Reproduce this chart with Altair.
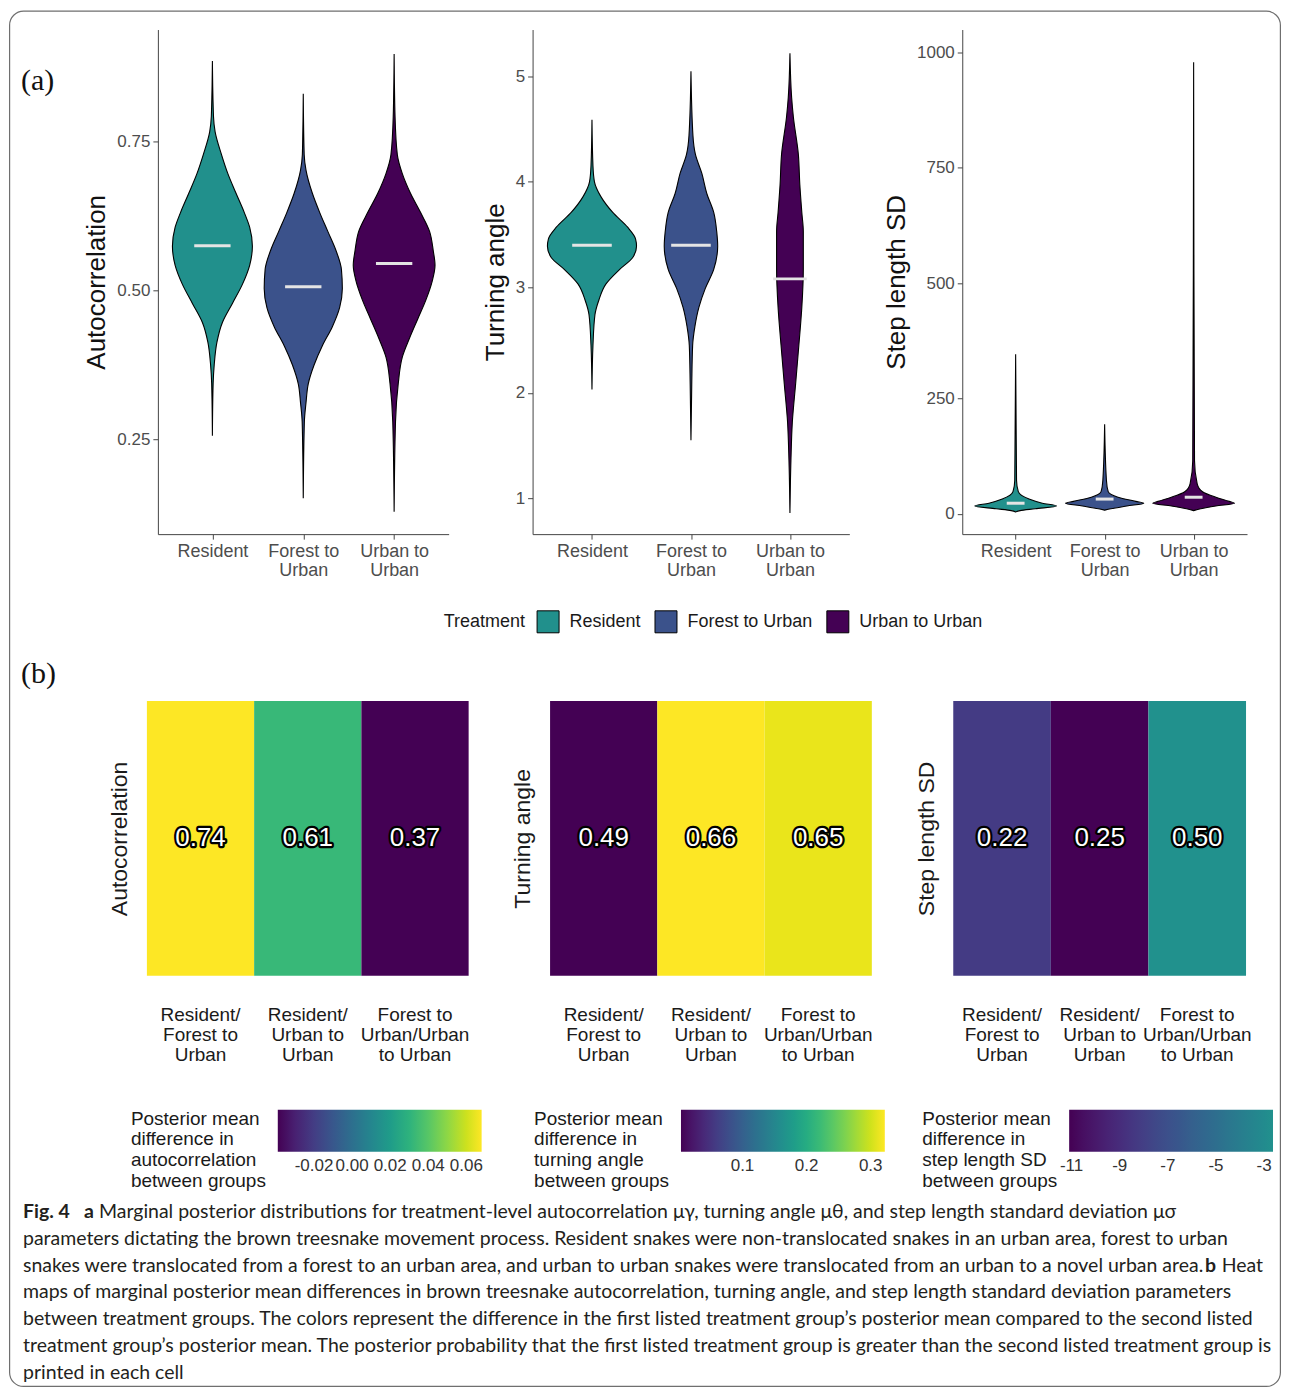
import json
import altair as alt
import pandas as pd

# ---------------- shared categories ----------------
TREATMENTS = ["Resident", "Forest to Urban", "Urban to Urban"]
TREAT_COLORS = ["#21908c", "#3b528b", "#440154"]
VIOLIN_X_LABELS = [["Resident"], ["Forest to", "Urban"], ["Urban to", "Urban"]]

# ---------------- (a) violin outlines ----------------
# value along the y axis, half-width of the violin (in category units)
AC_RES_V = [0.885, 0.792, 0.766, 0.728, 0.696, 0.663, 0.631, 0.606, 0.574, 0.542, 0.510, 0.478, 0.446, 0.413, 0.375, 0.343, 0.256]
AC_RES_W = [0.0, 0.012, 0.03, 0.10, 0.17, 0.26, 0.35, 0.41, 0.44, 0.41, 0.33, 0.22, 0.11, 0.05, 0.02, 0.008, 0.0]
AC_FTU_V = [0.830, 0.728, 0.702, 0.663, 0.631, 0.599, 0.567, 0.535, 0.503, 0.471, 0.439, 0.407, 0.375, 0.343, 0.311, 0.279, 0.151]
AC_FTU_W = [0.0, 0.01, 0.03, 0.10, 0.18, 0.27, 0.36, 0.42, 0.43, 0.40, 0.32, 0.21, 0.12, 0.055, 0.03, 0.012, 0.0]
AC_UTU_V = [0.897, 0.792, 0.728, 0.696, 0.663, 0.631, 0.599, 0.567, 0.542, 0.516, 0.484, 0.452, 0.420, 0.388, 0.343, 0.279, 0.128]
AC_UTU_W = [0.0, 0.01, 0.035, 0.09, 0.18, 0.29, 0.39, 0.43, 0.45, 0.42, 0.35, 0.26, 0.17, 0.09, 0.045, 0.015, 0.0]
AC_MEANS = [0.575, 0.506, 0.545]
AC_MEAN_HALF = [0.2, 0.2, 0.2]

TA_RES_V = [4.59, 4.15, 4.00, 3.86, 3.71, 3.57, 3.46, 3.39, 3.28, 3.17, 3.03, 2.88, 2.74, 2.45, 2.03]
TA_RES_W = [0.0, 0.01, 0.025, 0.09, 0.21, 0.36, 0.44, 0.45, 0.41, 0.28, 0.14, 0.07, 0.03, 0.01, 0.0]
TA_FTU_V = [5.05, 4.44, 4.26, 4.08, 3.89, 3.71, 3.53, 3.39, 3.17, 2.99, 2.81, 2.63, 2.45, 2.08, 1.55]
TA_FTU_W = [0.0, 0.02, 0.045, 0.11, 0.16, 0.23, 0.26, 0.27, 0.23, 0.145, 0.08, 0.04, 0.017, 0.008, 0.0]
TA_UTU_V = [5.22, 4.80, 4.62, 4.26, 3.97, 3.71, 3.53, 3.17, 2.81, 2.45, 2.08, 1.72, 1.36, 0.86]
TA_UTU_W = [0.0, 0.017, 0.034, 0.085, 0.10, 0.12, 0.135, 0.135, 0.12, 0.09, 0.057, 0.024, 0.01, 0.0]
TA_MEANS = [3.40, 3.40, 3.08]
TA_MEAN_HALF = [0.2, 0.2, 0.17]

SL_RES_V = [346, 73, 48, 32, 23, 17, 11, 7, 4]
SL_RES_W = [0.0, 0.01, 0.03, 0.15, 0.30, 0.46, 0.22, 0.05, 0.0]
SL_FTU_V = [194, 73, 48, 36, 27, 23, 17, 11, 8]
SL_FTU_W = [0.0, 0.02, 0.04, 0.15, 0.35, 0.44, 0.25, 0.07, 0.0]
SL_UTU_V = [979, 115, 65, 48, 36, 27, 23, 17, 11, 7]
SL_UTU_W = [0.0, 0.01, 0.04, 0.10, 0.25, 0.40, 0.46, 0.25, 0.08, 0.0]
SL_MEANS = [23, 32, 36]
SL_MEAN_HALF = [0.1, 0.1, 0.1]

# ---------------- (b) heat maps ----------------
HEAT_PAIRS = ["Resident/|Forest to|Urban", "Resident/|Urban to|Urban", "Forest to|Urban/Urban|to Urban"]
AC_DIFF = [0.068, 0.033, -0.039]
AC_PROB = [0.74, 0.61, 0.37]
TA_DIFF = [0.004, 0.322, 0.312]
TA_PROB = [0.49, 0.66, 0.65]
SL_DIFF = [-8.2, -11.1, -2.63]
SL_PROB = [0.22, 0.25, 0.50]
AC_TICKS = [-0.02, 0.0, 0.02, 0.04, 0.06]
TA_TICKS = [0.1, 0.2, 0.3]
SL_TICKS = [-11, -9, -7, -5, -3]

# ---------------- caption ----------------
CAP_L0 = "Marginal posterior distributions for treatment-level autocorrelation \u03bc\u03b3, turning angle \u03bc\u03b8, and step length standard deviation \u03bc\u03c3"
CAP_L2 = "snakes were translocated from a forest to an urban area, and urban to urban snakes were translocated from an urban to a novel urban area."
CAP_REST = [
    "parameters dictating the brown treesnake movement process. Resident snakes were non-translocated snakes in an urban area, forest to urban",
    CAP_L2,
    "maps of marginal posterior mean differences in brown treesnake autocorrelation, turning angle, and step length standard deviation parameters",
    "between treatment groups. The colors represent the difference in the first listed treatment group\u2019s posterior mean compared to the second listed",
    "treatment group\u2019s posterior mean. The posterior probability that the first listed treatment group is greater than the second listed treatment group is",
    "printed in each cell",
]

FONT = "Liberation Sans"

# layout (pixels)
ROW_A_H = 505
ROW_B_H = 275
GAP_AB = 167
GAP_BC = 223


def violin_frame(values, widths):
    rows = []
    for i, t in enumerate(TREATMENTS):
        for v, w in zip(values[i], widths[i]):
            rows.append({"treatment": t, "value": v, "left": i + 1 - w, "right": i + 1 + w})
    return pd.DataFrame(rows)


def mean_frame(means, halves):
    return pd.DataFrame({
        "treatment": TREATMENTS,
        "mean": means,
        "x1": [i + 1 - h for i, h in enumerate(halves)],
        "x2": [i + 1 + h for i, h in enumerate(halves)],
    })


x_label_expr = (
    f"datum.value == 1 ? {json.dumps(VIOLIN_X_LABELS[0])} : "
    f"datum.value == 2 ? {json.dumps(VIOLIN_X_LABELS[1])} : {json.dumps(VIOLIN_X_LABELS[2])}"
)

treat_legend = alt.Legend(
    title="Treatment", orient="none", legendX=286, legendY=581, direction="horizontal",
    titleOrient="left", titleFontSize=18, titleFontWeight="normal", titleColor="#1a1a1a",
    titleBaseline="middle", titlePadding=11,
    symbolType="square", symbolSize=484, symbolStrokeColor="black", symbolStrokeWidth=1,
    symbolOpacity=1, labelFontSize=18, labelColor="#1a1a1a", labelOffset=10,
    columnPadding=11, padding=0,
)


def violin_panel(vals, wids, means, halves, title, ydomain, yvalues, yfmt):
    df = violin_frame(vals, wids)
    mdf = mean_frame(means, halves)
    xscale = alt.Scale(domain=[0.4, 3.6], nice=False, zero=False)
    xaxis = alt.Axis(values=[1, 2, 3], labelExpr=x_label_expr, title=None, grid=False,
                     tickSize=5, tickColor="#444", domainColor="#444", labelFontSize=18,
                     labelColor="#4d4d4d", labelPadding=3, labelLineHeight=19, labelAngle=0)
    yaxis = alt.Axis(title=title, values=yvalues, format=yfmt, grid=False, tickSize=5,
                     tickColor="#444", domainColor="#444", labelFontSize=17,
                     labelColor="#4d4d4d", labelPadding=3, titleFontSize=26,
                     titleFontWeight="normal", titleColor="#111", titlePadding=7, minExtent=0)
    area = alt.Chart(df).mark_area(orient="horizontal", stroke="black", strokeWidth=1.1,
                                   interpolate="monotone", opacity=1).encode(
        y=alt.Y("value:Q", scale=alt.Scale(domain=ydomain, nice=False, zero=False), axis=yaxis),
        x=alt.X("left:Q", scale=xscale, axis=xaxis, stack=None),
        x2="right:Q",
        color=alt.Color("treatment:N", scale=alt.Scale(domain=TREATMENTS, range=TREAT_COLORS),
                        legend=treat_legend),
    )
    rule = alt.Chart(mdf).mark_rule(color="#e4e4e4", strokeWidth=3).encode(
        y="mean:Q", x="x1:Q", x2="x2:Q")
    return area, rule


# ---- row (a)
a1_area, a1_rule = violin_panel([AC_RES_V, AC_FTU_V, AC_UTU_V], [AC_RES_W, AC_FTU_W, AC_UTU_W],
                                AC_MEANS, AC_MEAN_HALF, "Autocorrelation",
                                [0.0906, 0.938], [0.25, 0.5, 0.75], ".2f")
a2_area, a2_rule = violin_panel([TA_RES_V, TA_FTU_V, TA_UTU_V], [TA_RES_W, TA_FTU_W, TA_UTU_W],
                                TA_MEANS, TA_MEAN_HALF, "Turning angle",
                                [0.659, 5.445], [1, 2, 3, 4, 5], "d")
a3_area, a3_rule = violin_panel([SL_RES_V, SL_FTU_V, SL_UTU_V], [SL_RES_W, SL_FTU_W, SL_UTU_W],
                                SL_MEANS, SL_MEAN_HALF, "Step length SD",
                                [-44, 1050], [0, 250, 500, 750, 1000], "d")

# figure frame (kept inside the 1274 px the page leaves, so nothing gets shrunk)
one = pd.DataFrame({"k": [0]})
border = alt.Chart(one).mark_rect(fill="white", fillOpacity=0, stroke="#6f6f6f", strokeWidth=1.2,
                                  cornerRadius=14).encode(
    x=alt.value(-148.4), x2=alt.value(1123.4), y=alt.value(-18.4), y2=alt.value(1358))
lab_a = alt.Chart(pd.DataFrame({"t": ["(a)"]})).mark_text(
    font="Liberation Serif", fontSize=30, align="left", baseline="middle", color="#111").encode(
    text="t:N", x=alt.value(-137), y=alt.value(52))
lab_b = alt.Chart(pd.DataFrame({"t": ["(b)"]})).mark_text(
    font="Liberation Serif", fontSize=30, align="left", baseline="middle", color="#111").encode(
    text="t:N", x=alt.value(-137), y=alt.value(645))

p1a = alt.layer(border, a1_area, a1_rule, lab_a, lab_b).properties(width=291, height=ROW_A_H)
p2a = alt.layer(a2_area, a2_rule).properties(width=317, height=ROW_A_H)
p3a = alt.layer(a3_area, a3_rule).properties(width=285, height=ROW_A_H)

row_a = alt.hconcat(p1a, alt.hconcat(p2a, p3a, spacing=113, bounds="flush"),
                    spacing=84, bounds="flush")


# ---- row (b)
def signed_expr(fmt):
    return f"(datum.value < 0 ? '-' : '') + format(abs(datum.value), '{fmt}')"


def heat_panel(diffs, probs, title, width, legend_title, legend_values, legend_fmt,
               legend_x, title_pad, scheme, x_range=None):
    df = pd.DataFrame({"pair": HEAT_PAIRS, "diff": diffs, "prob": probs, "param": [title] * 3})
    if x_range is None:
        xscale = alt.Scale(paddingInner=0, paddingOuter=0)
    else:
        xscale = alt.Scale(range=x_range, paddingInner=0, paddingOuter=0)
    x = alt.X("pair:N", sort=HEAT_PAIRS, scale=xscale,
              axis=alt.Axis(title=None, labelExpr="split(datum.label, '|')", labelAngle=0,
                            ticks=False, domain=False, labelPadding=30, labelFontSize=19,
                            labelColor="#1a1a1a", labelLineHeight=20, labelBaseline="top"))
    y = alt.Y("param:N", scale=alt.Scale(paddingInner=0, paddingOuter=0),
              axis=alt.Axis(title=title, labels=False, ticks=False, domain=False,
                            titleFontSize=23, titleFontWeight="normal", titleColor="#1a1a1a",
                            titlePadding=title_pad, minExtent=0, maxExtent=0))
    legend = alt.Legend(
        title=legend_title, orient="none", legendX=legend_x, legendY=409,
        direction="horizontal", titleOrient="left", titleFontSize=19,
        titleFontWeight="normal", titleColor="#1a1a1a", titleLineHeight=20.7,
        titleBaseline="top", titleAnchor="start", titlePadding=11, titleLimit=300,
        gradientLength=204, gradientThickness=42, values=legend_values,
        labelExpr=signed_expr(legend_fmt), labelFontSize=17, labelColor="#333333",
        labelOffset=6, labelOverlap=False, padding=0,
    )
    base = alt.Chart(df).encode(x=x, y=y)
    rect = base.mark_rect().encode(
        fill=alt.Fill("diff:Q", scale=alt.Scale(scheme=scheme, zero=False, nice=False),
                      legend=legend))
    outline = base.mark_text(fontSize=26, color="black", stroke="black", strokeWidth=4.5,
                             strokeJoin="round").encode(text=alt.Text("prob:Q", format=".2f"))
    fill_t = base.mark_text(fontSize=26, color="white").encode(
        text=alt.Text("prob:Q", format=".2f"))
    return alt.layer(rect, outline, fill_t).properties(width=width, height=ROW_B_H)


p1b = heat_panel(AC_DIFF, AC_PROB, "Autocorrelation", 311,
                 ["Posterior mean", "difference in", "autocorrelation", "between groups"],
                 AC_TICKS, ".2f", -27, 26, "viridis", x_range=[-11, 311])
p2b = heat_panel(TA_DIFF, TA_PROB, "Turning angle", 322,
                 ["Posterior mean", "difference in", "turning angle", "between groups"],
                 TA_TICKS, ".1f", -16, 16, "viridis")
p3b = heat_panel(SL_DIFF, SL_PROB, "Step length SD", 293,
                 ["Posterior mean", "difference in", "step length SD", "between groups"],
                 SL_TICKS, "d", -31, 15, alt.SchemeParams(name="viridis", extent=[0, 0.5]))

row_b = alt.hconcat(p1b, p2b, p3b, spacing=81.5, bounds="flush").resolve_scale(
    fill="independent").resolve_legend(fill="independent")

# ---- caption
CAP_FONT = "Lato"
CAP_SIZE = 19.5
CAP_COLOR = "#231f20"
yl = alt.Y("line:O", axis=None, scale=alt.Scale(domain=list(range(7)), padding=0.5))
rest_df = pd.DataFrame({"line": list(range(1, 7)), "text": CAP_REST})
cap_rest = alt.Chart(rest_df).mark_text(font=CAP_FONT, fontSize=CAP_SIZE, align="left",
                                        baseline="middle", color=CAP_COLOR).encode(
    y=yl, text="text:N", x=alt.value(-135))
cap_l0 = alt.Chart(pd.DataFrame({"line": [0], "text": [CAP_L0]})).mark_text(
    font=CAP_FONT, fontSize=CAP_SIZE, align="left", baseline="middle", color=CAP_COLOR).encode(
    y=yl, text="text:N", x=alt.value(-59))
cap_fig = alt.Chart(pd.DataFrame({"line": [0], "text": ["Fig. 4"]})).mark_text(
    font=CAP_FONT, fontSize=CAP_SIZE, fontWeight="bold", align="left", baseline="middle",
    color=CAP_COLOR).encode(y=yl, text="text:N", x=alt.value(-135))
cap_a = alt.Chart(pd.DataFrame({"line": [0], "text": ["a"]})).mark_text(
    font=CAP_FONT, fontSize=CAP_SIZE, fontWeight="bold", align="left", baseline="middle",
    color=CAP_COLOR).encode(y=yl, text="text:N", x=alt.value(-74))
cap_b = alt.Chart(pd.DataFrame({"line": [2], "text": ["b"]})).mark_text(
    font=CAP_FONT, fontSize=CAP_SIZE, fontWeight="bold", align="right", baseline="middle",
    color=CAP_COLOR).encode(y=yl, text="text:N", x=alt.value(1059))
cap_heat = alt.Chart(pd.DataFrame({"line": [2], "text": ["Heat"]})).mark_text(
    font=CAP_FONT, fontSize=CAP_SIZE, align="right", baseline="middle",
    color=CAP_COLOR).encode(y=yl, text="text:N", x=alt.value(1106))
caption = alt.layer(cap_rest, cap_l0, cap_fig, cap_a, cap_b, cap_heat).properties(
    width=1100, height=187.6)

# nested concat groups report no height under flush bounds, so the row height is
# added to the spacing
lower = alt.vconcat(row_b, caption, spacing=ROW_B_H + GAP_BC, bounds="flush").resolve_scale(
    fill="independent").resolve_legend(fill="independent")

chart = (
    alt.vconcat(row_a, lower, spacing=ROW_A_H + GAP_AB, bounds="flush")
    .resolve_scale(fill="independent")
    .resolve_legend(fill="independent")
    .properties(padding={"left": 0, "top": 1, "right": 0, "bottom": 0}, background="white")
    .configure(font=FONT)
    .configure_view(stroke="transparent")
)

chart.save("out.html", embed_options={"renderer": "svg", "actions": False})
